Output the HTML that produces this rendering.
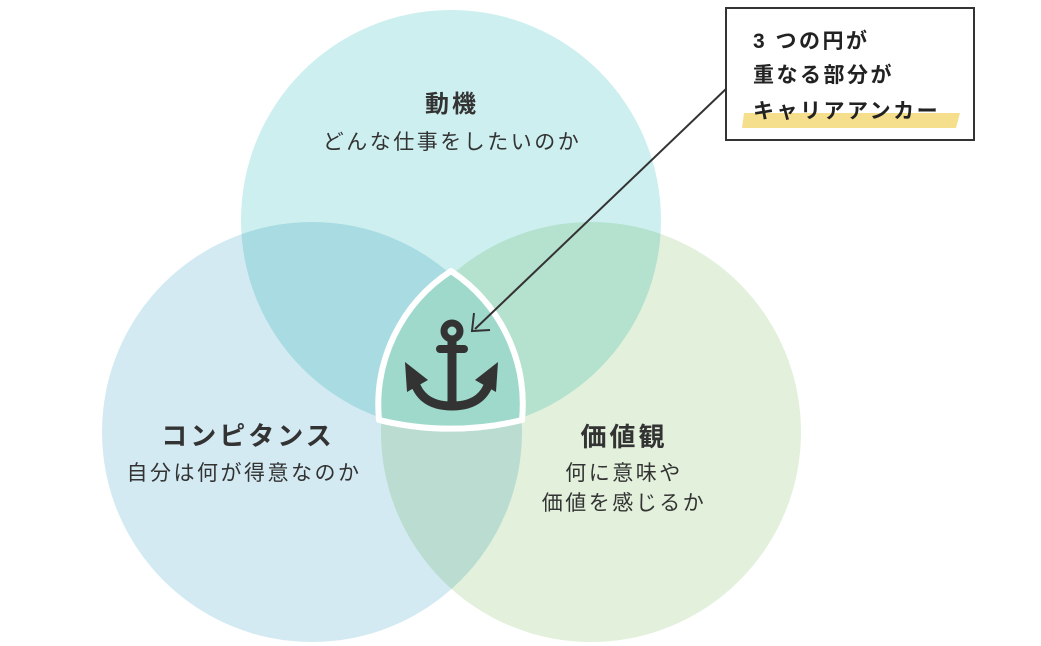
<!DOCTYPE html>
<html><head><meta charset="utf-8"><style>
html,body{margin:0;padding:0;background:#fff;}
body{width:1041px;height:646px;overflow:hidden;position:relative;font-family:"Liberation Sans","Noto Sans CJK JP",sans-serif;color:#333;}
</style></head><body>
<svg width="1041" height="646" viewBox="0 0 1041 646" style="position:absolute;left:0;top:0">
<g style="isolation:isolate">
<circle cx="451" cy="220" r="210" fill="#cdeff0" style="mix-blend-mode:multiply"/>
<circle cx="312" cy="432" r="210" fill="#d3eaf2" style="mix-blend-mode:multiply"/>
<circle cx="591" cy="432" r="210" fill="#e2f0dc" style="mix-blend-mode:multiply"/>
</g>
<path d="M451,271 A160,160 0 0 1 522,420 A300,300 0 0 1 379,420 A160,160 0 0 1 451,271 Z" fill="#9ed9cc" stroke="#fff" stroke-width="6" stroke-linejoin="round"/>
<g fill="#333" stroke="#333">
<circle cx="452" cy="331" r="8" fill="none" stroke-width="7"/>
<line x1="452" y1="339" x2="452" y2="402" stroke-width="9"/>
<line x1="440" y1="349" x2="464" y2="349" stroke-width="8" stroke-linecap="round"/>
<path d="M413,375 Q418,406 452,406 Q486,406 491,375" fill="none" stroke-width="9"/>
<polygon points="405,362 407,392 428,380" stroke="none"/>
<polygon points="498,362 496,392 475,380" stroke="none"/>
</g>
<line x1="727" y1="88" x2="475" y2="329" stroke="#333" stroke-width="2"/>
<polyline points="474,313 472,331 490,330" fill="none" stroke="#333" stroke-width="2"/>
<rect x="726" y="8" width="248" height="132" fill="#fff" stroke="#333" stroke-width="2"/>
<polygon points="744,113 960,113 956,128 742,128" fill="#f6df8c"/>
<g font-family="Liberation Sans, Noto Sans CJK JP, sans-serif" font-weight="bold" font-size="21" fill="#222" letter-spacing="2.5">
<text x="753" y="48">3 つの円が</text>
<text x="753" y="82">重なる部分が</text>
<text x="753" y="118">キャリアアンカー</text>
</g>
<g font-family="Liberation Sans, Noto Sans CJK JP, sans-serif" text-anchor="middle" fill="#333">
<text x="452" y="112" font-size="24" font-weight="bold" letter-spacing="3">動機</text>
<text x="452" y="149" font-size="21" letter-spacing="2.5">どんな仕事をしたいのか</text>
<text x="248" y="445" font-size="26" font-weight="bold" letter-spacing="3">コンピタンス</text>
<text x="244" y="480" font-size="21" letter-spacing="2.5">自分は何が得意なのか</text>
<text x="624" y="446" font-size="26" font-weight="bold" letter-spacing="3">価値観</text>
<text x="624" y="480" font-size="21" letter-spacing="2.5">何に意味や</text>
<text x="624" y="510" font-size="21" letter-spacing="2.5">価値を感じるか</text>
</g>
</svg>
</body></html>
